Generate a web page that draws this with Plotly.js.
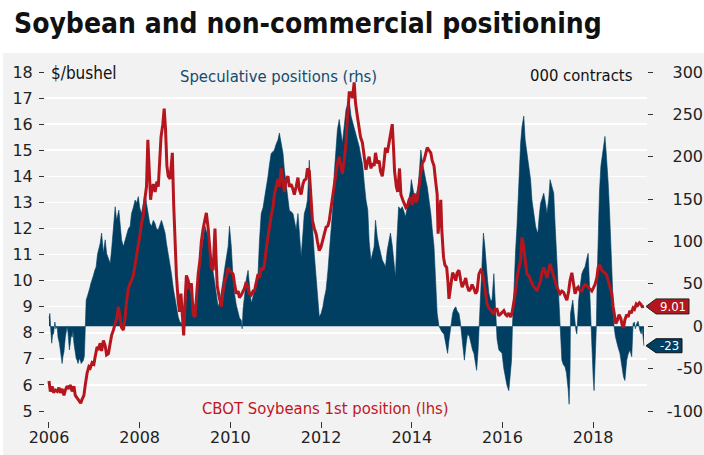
<!DOCTYPE html>
<html><head><meta charset="utf-8">
<script src="https://cdn.plot.ly/plotly-3.0.1.min.js"></script>
<style>html,body{margin:0;padding:0;background:#fff;}#chart{width:704px;height:455px;}</style>
</head><body><div id="chart"></div>
<script>
// ---- DATA ----
const priceYears = [2006.00,2006.03,2006.07,2006.10,2006.14,2006.18,2006.22,2006.25,2006.29,2006.33,2006.36,2006.40,2006.44,2006.47,2006.51,2006.55,2006.58,2006.62,2006.66,2006.70,2006.73,2006.77,2006.80,2006.84,2006.88,2006.91,2006.95,2006.99,2007.02,2007.06,2007.09,2007.13,2007.16,2007.20,2007.24,2007.27,2007.31,2007.35,2007.38,2007.42,2007.46,2007.50,2007.53,2007.57,2007.60,2007.64,2007.68,2007.71,2007.75,2007.79,2007.82,2007.86,2007.90,2007.93,2007.97,2008.01,2008.04,2008.08,2008.12,2008.15,2008.18,2008.21,2008.24,2008.27,2008.30,2008.34,2008.38,2008.41,2008.44,2008.47,2008.51,2008.54,2008.57,2008.60,2008.63,2008.67,2008.70,2008.72,2008.75,2008.78,2008.81,2008.85,2008.88,2008.91,2008.94,2008.97,2009.00,2009.03,2009.07,2009.10,2009.14,2009.18,2009.22,2009.25,2009.29,2009.33,2009.36,2009.40,2009.44,2009.47,2009.51,2009.55,2009.58,2009.62,2009.66,2009.69,2009.71,2009.75,2009.80,2009.84,2009.88,2009.92,2009.95,2009.98,2010.02,2010.06,2010.09,2010.13,2010.17,2010.20,2010.24,2010.28,2010.31,2010.35,2010.39,2010.42,2010.46,2010.50,2010.53,2010.57,2010.61,2010.64,2010.68,2010.72,2010.75,2010.79,2010.83,2010.86,2010.90,2010.94,2010.97,2011.01,2011.05,2011.08,2011.12,2011.16,2011.19,2011.23,2011.27,2011.30,2011.34,2011.38,2011.41,2011.45,2011.49,2011.52,2011.56,2011.60,2011.63,2011.67,2011.70,2011.74,2011.77,2011.81,2011.85,2011.89,2011.92,2011.96,2012.00,2012.04,2012.07,2012.11,2012.15,2012.18,2012.22,2012.26,2012.29,2012.33,2012.36,2012.40,2012.44,2012.47,2012.51,2012.55,2012.58,2012.62,2012.66,2012.69,2012.73,2012.76,2012.80,2012.84,2012.87,2012.91,2012.95,2012.99,2013.03,2013.06,2013.10,2013.13,2013.17,2013.20,2013.24,2013.28,2013.31,2013.35,2013.38,2013.42,2013.46,2013.50,2013.53,2013.57,2013.60,2013.62,2013.66,2013.69,2013.73,2013.76,2013.80,2013.83,2013.87,2013.90,2013.94,2013.98,2014.01,2014.05,2014.09,2014.12,2014.16,2014.20,2014.23,2014.27,2014.31,2014.34,2014.38,2014.42,2014.45,2014.49,2014.52,2014.56,2014.58,2014.61,2014.64,2014.66,2014.70,2014.73,2014.77,2014.80,2014.82,2014.86,2014.90,2014.93,2014.97,2015.00,2015.04,2015.08,2015.11,2015.15,2015.19,2015.22,2015.26,2015.30,2015.33,2015.37,2015.41,2015.44,2015.48,2015.52,2015.55,2015.59,2015.63,2015.66,2015.70,2015.74,2015.77,2015.81,2015.84,2015.88,2015.92,2015.96,2015.99,2016.03,2016.07,2016.10,2016.14,2016.18,2016.21,2016.25,2016.29,2016.32,2016.36,2016.40,2016.43,2016.47,2016.50,2016.54,2016.58,2016.62,2016.65,2016.69,2016.73,2016.76,2016.80,2016.84,2016.87,2016.91,2016.95,2016.98,2017.02,2017.05,2017.09,2017.13,2017.16,2017.20,2017.24,2017.27,2017.31,2017.35,2017.38,2017.42,2017.46,2017.49,2017.53,2017.56,2017.60,2017.64,2017.67,2017.71,2017.75,2017.78,2017.82,2017.86,2017.89,2017.93,2017.97,2018.00,2018.04,2018.08,2018.11,2018.15,2018.19,2018.22,2018.26,2018.30,2018.33,2018.37,2018.41,2018.44,2018.47,2018.50,2018.54,2018.57,2018.61,2018.64,2018.67,2018.70,2018.74,2018.77,2018.81,2018.84,2018.88,2018.91,2018.95,2018.98,2019.02,2019.05,2019.08,2019.12];
const priceValues = [6.15,5.75,5.95,5.7,5.8,5.75,5.9,5.7,5.85,5.6,5.8,5.95,5.85,6.0,5.75,5.95,5.6,5.5,5.4,5.3,5.45,5.6,6.0,6.45,6.7,6.65,6.85,6.8,7.1,7.45,7.4,7.6,7.3,7.7,7.5,7.15,7.2,7.6,7.9,8.1,8.4,8.6,9.0,8.5,8.2,8.1,8.6,9.2,9.7,9.9,10.0,10.2,10.6,11.0,11.3,11.8,12.2,12.5,13.2,13.6,15.4,14.0,13.1,13.5,13.7,13.4,13.8,13.6,14.5,15.5,16.0,16.6,15.8,14.4,14.0,13.9,14.5,14.9,12.9,11.5,10.2,9.2,8.8,9.5,8.6,7.9,9.2,10.2,10.0,9.7,9.9,8.7,8.6,9.5,10.25,10.8,11.5,12.0,12.4,12.6,12.0,11.3,10.5,10.4,12.0,10.6,9.8,9.4,9.0,9.6,10.0,10.2,10.5,10.4,10.3,10.25,9.9,9.5,9.6,9.35,9.45,9.6,9.7,9.95,9.7,9.5,9.45,9.6,9.6,9.9,10.25,10.1,10.5,10.4,10.6,11.2,11.7,12.1,12.5,12.8,13.3,13.6,13.9,13.6,14.3,13.8,13.4,13.9,14.0,13.6,13.7,13.5,13.3,13.6,13.95,13.5,13.3,13.7,13.85,13.9,14.3,14.2,13.2,12.3,12.0,11.8,11.5,11.15,11.3,11.55,11.8,12.05,12.1,12.3,12.8,13.3,13.8,14.2,14.5,14.75,14.3,14.1,14.6,15.3,16.2,17.2,17.2,17.0,17.6,16.8,16.3,15.8,15.5,15.3,14.8,14.25,14.6,14.75,14.3,14.5,14.4,14.9,14.5,14.6,14.2,14.0,14.4,15.1,14.9,15.3,15.5,16.0,15.0,14.2,13.6,13.4,14.3,13.3,13.1,12.95,12.8,12.85,13.1,13.2,12.9,13.35,13.0,13.1,13.6,14.2,14.5,14.6,14.9,15.1,15.0,14.9,14.6,14.4,13.9,13.3,11.8,12.5,13.1,12.0,10.9,10.6,10.5,9.9,9.3,9.8,10.3,10.2,10.0,10.3,10.4,10.0,9.75,9.9,10.1,9.8,9.6,9.7,9.85,9.7,9.5,9.6,10.25,10.4,10.35,10.0,9.5,9.1,8.95,8.85,8.8,8.72,8.9,8.9,8.65,8.72,8.8,8.85,8.7,8.65,8.75,8.6,8.75,9.1,9.6,10.1,10.4,10.8,11.65,11.3,10.8,10.25,10.2,10.0,9.9,9.75,9.7,9.6,9.8,10.0,10.3,10.5,10.3,10.1,10.4,10.65,10.4,10.15,9.95,9.75,9.6,9.5,9.6,9.55,9.4,9.25,9.6,10.0,10.3,9.9,9.5,9.7,9.75,9.6,9.6,9.75,9.85,9.8,9.75,9.65,9.6,9.7,9.85,10.1,10.5,10.6,10.4,10.35,10.3,10.2,10.0,9.8,9.5,9.0,8.7,8.35,8.5,8.7,8.55,8.3,8.2,8.5,8.7,8.6,8.85,8.75,8.95,8.9,9.1,9.05,9.15,9.1,9.0,9.01];

const posYears = [2006.00,2006.02,2006.04,2006.06,2006.08,2006.10,2006.13,2006.15,2006.18,2006.20,2006.23,2006.25,2006.27,2006.29,2006.31,2006.33,2006.36,2006.38,2006.40,2006.42,2006.45,2006.47,2006.49,2006.51,2006.53,2006.55,2006.58,2006.60,2006.62,2006.64,2006.67,2006.69,2006.71,2006.73,2006.76,2006.78,2006.80,2006.82,2006.85,2006.87,2006.90,2006.92,2006.95,2006.98,2007.01,2007.04,2007.07,2007.10,2007.13,2007.16,2007.18,2007.20,2007.22,2007.24,2007.27,2007.31,2007.35,2007.38,2007.42,2007.44,2007.46,2007.49,2007.52,2007.54,2007.57,2007.60,2007.64,2007.67,2007.71,2007.75,2007.79,2007.82,2007.86,2007.90,2007.93,2007.97,2008.00,2008.04,2008.08,2008.12,2008.15,2008.19,2008.22,2008.26,2008.30,2008.34,2008.37,2008.41,2008.45,2008.48,2008.52,2008.56,2008.59,2008.63,2008.67,2008.70,2008.74,2008.78,2008.81,2008.85,2008.88,2008.92,2008.96,2009.00,2009.03,2009.07,2009.10,2009.14,2009.18,2009.22,2009.25,2009.29,2009.33,2009.36,2009.40,2009.44,2009.47,2009.51,2009.55,2009.58,2009.62,2009.66,2009.69,2009.73,2009.77,2009.80,2009.84,2009.88,2009.91,2009.95,2009.98,2010.02,2010.05,2010.09,2010.13,2010.17,2010.20,2010.24,2010.26,2010.28,2010.31,2010.35,2010.39,2010.42,2010.46,2010.50,2010.53,2010.57,2010.61,2010.64,2010.68,2010.72,2010.75,2010.79,2010.83,2010.86,2010.90,2010.94,2010.97,2011.01,2011.05,2011.08,2011.12,2011.16,2011.19,2011.23,2011.27,2011.30,2011.34,2011.38,2011.41,2011.45,2011.49,2011.52,2011.56,2011.60,2011.63,2011.67,2011.70,2011.74,2011.77,2011.81,2011.85,2011.89,2011.92,2011.96,2012.00,2012.04,2012.07,2012.11,2012.15,2012.18,2012.22,2012.26,2012.29,2012.33,2012.36,2012.40,2012.44,2012.47,2012.51,2012.55,2012.59,2012.62,2012.66,2012.70,2012.73,2012.77,2012.80,2012.84,2012.88,2012.92,2012.95,2012.99,2013.03,2013.06,2013.10,2013.13,2013.17,2013.20,2013.24,2013.28,2013.31,2013.35,2013.38,2013.42,2013.46,2013.50,2013.53,2013.57,2013.60,2013.64,2013.67,2013.71,2013.75,2013.79,2013.83,2013.86,2013.90,2013.93,2013.97,2013.99,2014.03,2014.07,2014.10,2014.14,2014.17,2014.20,2014.23,2014.27,2014.31,2014.34,2014.38,2014.42,2014.45,2014.49,2014.52,2014.56,2014.60,2014.64,2014.67,2014.71,2014.75,2014.79,2014.82,2014.86,2014.90,2014.93,2014.97,2015.00,2015.04,2015.07,2015.10,2015.13,2015.16,2015.20,2015.23,2015.27,2015.30,2015.34,2015.37,2015.40,2015.43,2015.46,2015.48,2015.50,2015.52,2015.55,2015.58,2015.61,2015.63,2015.67,2015.70,2015.74,2015.77,2015.79,2015.81,2015.83,2015.85,2015.88,2015.92,2015.96,2015.99,2016.03,2016.07,2016.10,2016.14,2016.17,2016.20,2016.22,2016.26,2016.29,2016.32,2016.36,2016.40,2016.43,2016.47,2016.50,2016.54,2016.58,2016.62,2016.65,2016.69,2016.73,2016.76,2016.78,2016.81,2016.84,2016.87,2016.91,2016.95,2016.98,2017.02,2017.05,2017.09,2017.13,2017.16,2017.20,2017.24,2017.27,2017.31,2017.34,2017.38,2017.41,2017.43,2017.45,2017.47,2017.49,2017.50,2017.53,2017.55,2017.58,2017.60,2017.62,2017.64,2017.66,2017.68,2017.72,2017.75,2017.78,2017.82,2017.86,2017.89,2017.91,2017.93,2017.95,2017.97,2018.00,2018.02,2018.05,2018.07,2018.09,2018.11,2018.14,2018.17,2018.20,2018.22,2018.24,2018.26,2018.28,2018.30,2018.33,2018.36,2018.39,2018.41,2018.44,2018.46,2018.49,2018.52,2018.55,2018.59,2018.62,2018.65,2018.67,2018.70,2018.72,2018.74,2018.77,2018.81,2018.85,2018.88,2018.91,2018.93,2018.96,2018.99,2019.03,2019.06,2019.08,2019.10,2019.12];
const posValues = [10,15,-5,-20,-10,-9,5,-3,0,-13,-20,-28,-38,-44,-35,-30,-13,-5,0,-8,-28,-20,-10,-13,-5,-20,-32,-38,-40,-44,-38,-40,-44,-42,-40,-35,0,31,36,39,45,50,54,60,66,70,85,92,98,110,100,86,95,102,86,80,74,90,118,130,141,125,132,137,120,102,94,100,110,115,118,133,140,149,145,153,140,133,145,157,145,129,122,118,125,121,115,114,120,125,118,110,98,86,75,62,45,31,20,11,6,3,8,15,35,54,45,35,28,23,35,50,70,86,100,118,112,106,90,78,62,47,33,23,30,39,55,70,82,94,118,94,65,39,25,15,10,7,-3,20,39,55,66,45,27,35,43,50,62,100,133,140,149,165,177,190,204,206,208,215,220,228,215,204,185,165,150,137,135,133,125,114,133,105,82,110,133,140,149,196,160,118,85,58,30,11,15,23,33,43,65,86,115,141,180,216,232,244,230,216,236,256,262,267,248,240,235,228,220,212,200,189,170,149,137,100,78,85,94,125,105,94,85,78,75,70,90,102,110,95,78,58,100,141,138,141,135,129,140,149,160,173,160,149,155,165,185,208,195,181,172,165,150,133,115,94,60,15,0,-5,-7,-9,-20,-32,-17,0,15,20,23,18,15,5,-9,-25,-40,-20,-9,-12,-20,-28,-32,-40,-52,-30,-9,15,39,75,110,95,78,55,39,30,31,45,62,40,10,-15,-28,-30,-32,-50,-64,-70,-76,-60,-40,0,66,90,118,170,216,235,248,220,204,190,173,149,130,118,112,110,130,145,150,157,145,133,150,173,165,157,120,78,40,0,-40,-45,-48,-55,-64,-75,-92,-50,15,25,31,15,3,-5,-9,10,31,50,62,66,70,80,86,60,31,-10,-40,-60,-76,-40,0,60,118,160,189,200,208,215,224,210,196,170,137,100,70,30,0,-12,-20,-25,-32,-45,-55,-60,-64,-50,-40,-33,-28,-36,3,5,-3,3,6,-5,-9,-2,-15,-23];

const xTickVals = [2006,2008,2010,2012,2014,2016,2018];
const xTickText = ["2006","2008","2010","2012","2014","2016","2018"];
const leftTickVals = [5,6,7,8,9,10,11,12,13,14,15,16,17,18];
const rightTickVals = [-100,-50,0,50,100,150,200,250,300];
const rightTickText = ["-100","-50","0","50","100","150","200","250","300"];
const priceRange = [5,18];
const posRange = [-100,300];

// ---- LAYOUT GEOMETRY ----
const W = 704, H = 455;
const M = {l:45, r:1, t:72, b:34};
const pw = W - M.l - M.r, ph = H - M.t - M.b;
const pX = px => (px - M.l) / pw;
const pY = py => (H - M.b - py) / ph;
const xDomain = [0, pX(647)];
const yDomain = [pY(411), 1];
const valToPaperY = (v, r) => yDomain[0] + (v - r[0]) / (r[1] - r[0]) * (1 - yDomain[0]);

const lastPrice = priceValues[priceValues.length - 1];
const lastPos = posValues[posValues.length - 1];

const RED = '#b5161e', BLUE = '#003e62';
const tickFont = {family:'DejaVu Sans', size:16, color:'#222'};
const annFont = {family:'DejaVu Sans Condensed', size:16.5};

const traces = [
  {x: posYears, y: posValues, type:'scatter', mode:'lines', fill:'tozeroy',
   fillcolor: BLUE, line:{color: BLUE, width:0.6}, xaxis:'x', yaxis:'y', hoverinfo:'skip'},
  {x: priceYears, y: priceValues, type:'scatter', mode:'lines',
   line:{color: RED, width:3}, xaxis:'x', yaxis:'y2', hoverinfo:'skip'},
  // carrier for the right-hand label axis (no marks)
  {x: [], y: [], type:'scatter', mode:'lines', xaxis:'x', yaxis:'y3', hoverinfo:'skip'}
];

const yPriceLast = valToPaperY(lastPrice, priceRange);
const yPosLast = valToPaperY(lastPos, posRange);

const layout = {
  width: W, height: H, margin: M,
  paper_bgcolor:'#ffffff', plot_bgcolor:'rgba(0,0,0,0)', showlegend:false,
  title: {text:'Soybean and non-commercial positioning', xref:'container', yref:'container',
    x: 14/W, xanchor:'left', y: 1 - 23/H, yanchor:'middle',
    font:{family:'DejaVu Sans Condensed', size:28, color:'#111', weight:'bold'}},
  xaxis: {domain: xDomain, range:[2005.912, 2019.187], anchor:'free', position:0,
    tickmode:'array', tickvals:xTickVals, ticktext:xTickText, ticks:'outside', ticklen:6,
    tickcolor:'#333', tickwidth:1, showgrid:false, zeroline:false, showline:false,
    tickfont: tickFont, ticklabelstandoff:-4, fixedrange:true},
  yaxis: {domain: yDomain, range: posRange, side:'right', anchor:'x',
    tickmode:'array', tickvals: rightTickVals, showticklabels:false, ticks:'outside', ticklen:5,
    tickcolor:'#333', showgrid:false, zeroline:false, showline:false, fixedrange:true},
  yaxis2: {range: priceRange, overlaying:'y', side:'left', anchor:'x',
    tickmode:'array', tickvals: leftTickVals, ticks:'outside', ticklen:5, tickcolor:'#333',
    showgrid:true, gridcolor:'#ffffff', gridwidth:1.5, zeroline:false, showline:false,
    tickfont: tickFont, ticklabelstandoff:3, fixedrange:true},
  yaxis3: {range: posRange, overlaying:'y', side:'left', anchor:'free', position:1,
    tickmode:'array', tickvals: rightTickVals, ticktext: rightTickText, ticks:'',
    showgrid:false, zeroline:false, showline:false,
    tickfont: tickFont, fixedrange:true},
  shapes: [
    {type:'rect', xref:'paper', yref:'paper', x0:pX(3), x1:pX(704), y0:pY(455), y1:pY(53),
     fillcolor:'#f2f2f2', line:{width:0}, layer:'below'},
    {type:'path', xref:'paper', yref:'paper', xsizemode:'pixel', ysizemode:'pixel',
     xanchor:pX(646), yanchor:yPriceLast,
     path:'M0,0 L10,7.5 L43,7.5 L43,-7.5 L10,-7.5 Z', fillcolor:RED, line:{color:'#222', width:1}},
    {type:'path', xref:'paper', yref:'paper', xsizemode:'pixel', ysizemode:'pixel',
     xanchor:pX(646), yanchor:yPosLast,
     path:'M0,0 L10,7 L36,7 L36,-7 L10,-7 Z', fillcolor:BLUE, line:{color:'#111', width:1}}
  ],
  annotations: [
    {xref:'paper', yref:'paper', x:pX(49), y:pY(73), xanchor:'left', yanchor:'middle',
     text:'$/bushel', showarrow:false, font:Object.assign({}, annFont, {size:17, color:'#111'})},
    {xref:'paper', yref:'paper', x:pX(278), y:pY(77), xanchor:'center', yanchor:'middle',
     text:'Speculative positions (rhs)', showarrow:false, font:Object.assign({}, annFont, {color:'#124b6f'})},
    {xref:'paper', yref:'paper', x:pX(635), y:pY(75), xanchor:'right', yanchor:'middle',
     text:'000 contracts', showarrow:false, font:Object.assign({}, annFont, {color:'#111'})},
    {xref:'paper', yref:'paper', x:pX(325), y:pY(408), xanchor:'center', yanchor:'middle',
     text:'CBOT Soybeans 1st position (lhs)', showarrow:false, font:Object.assign({}, annFont, {color:'#c0161f'})},
    {xref:'paper', yref:'paper', x:pX(673), y:yPriceLast, xanchor:'center', yanchor:'middle',
     text: lastPrice.toFixed(2), showarrow:false, font:{family:'DejaVu Sans Condensed', size:13, color:'#ffffff'}},
    {xref:'paper', yref:'paper', x:pX(669), y:yPosLast, xanchor:'center', yanchor:'middle',
     text: String(Math.round(lastPos)), showarrow:false, font:{family:'DejaVu Sans Condensed', size:13, color:'#ffffff'}}
  ]
};

Plotly.newPlot('chart', traces, layout, {staticPlot:true, displayModeBar:false});
</script>
</body></html>
